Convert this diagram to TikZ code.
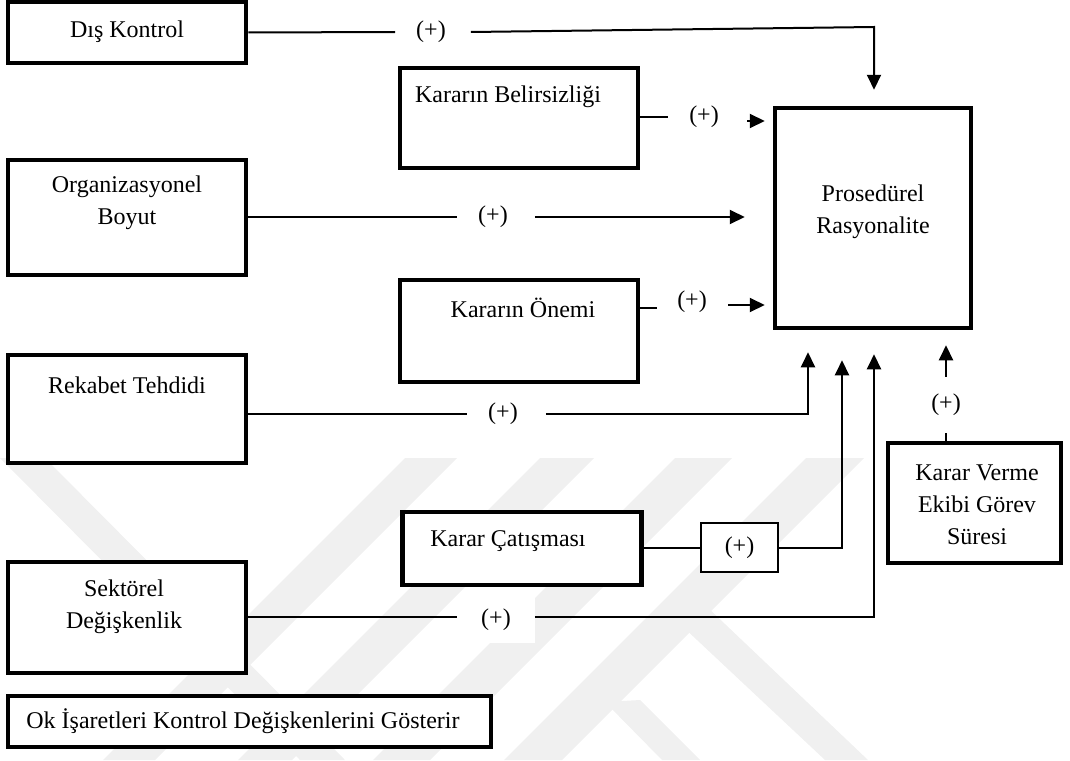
\documentclass[tikz,border=0pt]{standalone}
\usepackage{fontspec}
\setmainfont{Liberation Serif}
\usetikzlibrary{arrows.meta}

\begin{document}
\begin{tikzpicture}[x=1pt,y=-1pt,
    every node/.style={font=\fontsize{24}{32}\selectfont},
    box/.style={draw, fill=white, line width=4.5pt, minimum width=#1, inner sep=0pt},
    thinbox/.style={draw, fill=white, line width=1.5pt, inner sep=0pt},
    txt/.style={align=center, inner sep=0pt},
    plus/.style={fill=white, inner xsep=21pt, inner ysep=12pt},
    conn/.style={line width=2pt},
    arr/.style={-{Triangle[length=15pt,width=14pt]}},
    wm/.style={fill=black!6}]
\useasboundingbox (0,0) rectangle (1070,760);

% ---- faint background bands ----
\begin{scope}
\clip (0,455) rectangle (1070,760);
\fill[wm] (405,458) -- (457,458) -- (155,760) -- (103,760) -- cycle;
\fill[wm] (540,458) -- (594,458) -- (292,760) -- (238,760) -- cycle;
\fill[wm] (675,458) -- (732,458) -- (430,760) -- (373,760) -- cycle;
\fill[wm] (806,458) -- (864,458) -- (562,760) -- (504,760) -- cycle;
\fill[wm] (0,458) -- (45,458) -- (345,760) -- (300,760) -- cycle;
\fill[wm] (665,610) -- (705,605) -- (868,760) -- (825,760) -- cycle;
\fill[wm] (605,702) -- (640,700) -- (700,760) -- (662,760) -- cycle;
\end{scope}

% ---- boxes ----
\node[box=238pt, minimum height=61pt]  (DK)  at (127,32.5)  {};
\node[box=238pt, minimum height=115pt] (ORG) at (127,217.5) {};
\node[box=238pt, minimum height=108pt] (RT)  at (127,409)   {};
\node[box=238pt, minimum height=111pt] (SD)  at (127,617.5) {};
\node[box=483pt, minimum height=51pt]  (LEG) at (249.5,721.5) {};
\node[box=238pt, minimum height=100pt] (KB)  at (519,118)   {};
\node[box=238pt, minimum height=102pt] (KO)  at (519,331)   {};
\node[box=239pt, minimum height=73pt]  (KC)  at (522,548.5) {};
\node[box=196pt, minimum height=220pt] (PR)  at (873,218)   {};
\node[box=173pt, minimum height=120pt] (KV)  at (974.5,503) {};
\node[thinbox, minimum width=77pt, minimum height=49pt] (PB) at (739.5,547.5) {(+)};

% ---- box texts ----
\node[txt] (DKt)  at (127,32)    {Dış Kontrol};
\node[txt] (ORGt) at (127,202.5) {Organizasyonel\\Boyut};
\node[txt] (RTt)  at (127,385)   {Rekabet Tehdidi};
\node[txt] (SDt)  at (124,606.5) {Sektörel\\Değişkenlik};
\node[txt] (LEGt) at (243,721)   {Ok İşaretleri Kontrol Değişkenlerini Gösterir};
\node[txt] (KBt)  at (508,97)    {Kararın Belirsizliği};
\node[txt] (KOt)  at (523,308)   {Kararın Önemi};
\node[txt] (KCt)  at (508,541)   {Karar Çatışması};
\node[txt] (PRt)  at (873,211.5) {Prosedürel\\Rasyonalite};
\node[txt] (KVt)  at (977,505)   {Karar Verme\\Ekibi Görev\\Süresi};

% ---- sign labels ----
\node[plus] (pDK)  at (431,32)  {(+)};
\node[plus] (pORG) at (493,217) {(+)};
\node[plus] (pKB)  at (704,117) {(+)};
\node[plus] (pKO)  at (692,302) {(+)};
\node[plus] (pRT)  at (503,414) {(+)};
\node[plus, inner xsep=24pt] (pSD)  at (496,620) {(+)};
\node[fill=white, inner xsep=3pt, inner ysep=17pt] (pKV) at (946,405) {(+)};

% ---- helper points ----
\coordinate (dkc) at (874,27);
\coordinate (kbA) at (747,121);
\coordinate (koL) at (657,308);
\coordinate (koA) at (728,305);
\coordinate (rtc) at (808,414);
\coordinate (kcc) at (842,548);
\coordinate (sdc) at (874,617);

% ---- connectors ----
\draw[conn] (DK.east) -- (pDK.west);
\draw[conn,arr,shorten >=16pt] ([xshift=4pt]pDK.east) -- (dkc) -- (dkc |- PR.north);

\draw[conn] (ORG.east |- pORG) -- (pORG.west);
\draw[conn,arr,shorten >=28pt] ([xshift=6pt]pORG.east) -- (pORG.east -| PR.west);

\draw[conn] (KB.east |- pKB) -- (pKB.west);
\draw[conn,arr,shorten >=8pt] (kbA) -- (kbA -| PR.west);

\draw[conn] (koL -| KO.east) -- (koL);
\draw[conn,arr,shorten >=8pt] (koA) -- (koA -| PR.west);

\draw[conn] (RT.east |- pRT) -- (pRT.west);
\draw[conn,arr,shorten >=22pt] ([xshift=7pt]pRT.east) -- (rtc) -- (rtc |- PR.south);

\draw[conn] (KC.east |- kcc) -- (PB.west |- kcc);
\draw[conn,arr,shorten >=30pt] (PB.east |- kcc) -- (kcc) -- (kcc |- PR.south);

\draw[conn] (SD.east |- sdc) -- (pSD.west |- sdc);
\draw[conn,arr,shorten >=24pt] (pSD.east |- sdc) -- (sdc) -- (sdc |- PR.south);

\draw[conn] (pKV.south |- KV.north) -- (pKV.south);
\draw[conn,arr,shorten >=15pt] (pKV.north) -- (pKV.north |- PR.south);
\end{tikzpicture}
\end{document}
